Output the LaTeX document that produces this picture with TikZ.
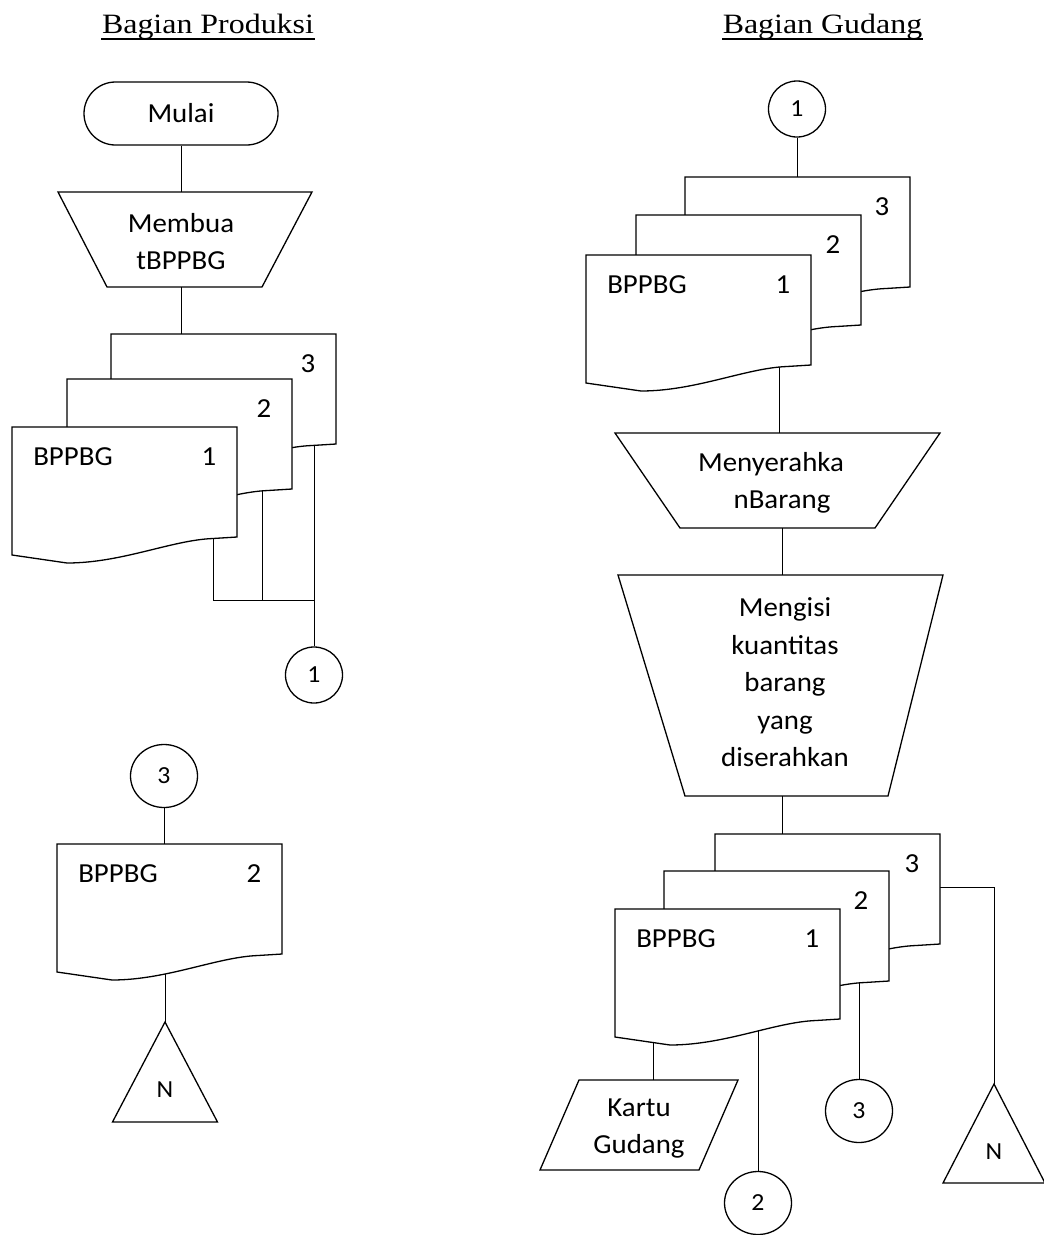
\documentclass[tikz,border=0pt]{standalone}
\usepackage{fontspec}
\setmainfont{Carlito}[FakeStretch=1.05]
\newfontfamily\judulfont{Liberation Serif}[FakeStretch=1.14]
\usetikzlibrary{shapes.geometric,shapes.misc,calc,backgrounds}

% lembar dokumen: nama, x, y (pojok kiri atas), teks kiri, nomor lembar
\newcommand{\dokumen}[5]{%
  \begin{scope}[shift={(#2,#3)}]
    \filldraw[kertas] (0,0) coordinate (#1-tl) -- (225,0) -- (225,110) -- (201,111.5)
      .. controls (160,113) and (110,136) .. (55,136) -- (0,128) -- cycle;
    \node[teks] (#1) at (61,30) {#4};
    \node[teks] (#1-no) at (197,30) {#5};
  \end{scope}}

\begin{document}
\begin{tikzpicture}[x=1pt, y=-1pt, line width=1.3pt]
    \tikzstyle{teks} = [font=\fontsize{27.5}{37.5}\selectfont, inner sep=0pt]
    \tikzstyle{kecil} = [font=\fontsize{24.5}{30}\selectfont, inner sep=0pt]
    \tikzstyle{judul} = [font={\judulfont\fontsize{28}{34}\selectfont}, inner sep=0pt, anchor=base]
    \tikzstyle{kertas} = [draw, fill=white]
    \tikzstyle{terminal} = [rounded rectangle, draw, minimum width=194pt, minimum height=63pt, teks]
    \tikzstyle{konektor} = [ellipse, draw, minimum width=67pt, minimum height=63pt, inner sep=0pt, kecil]
    \tikzstyle{konektorkecil} = [ellipse, draw, minimum width=57pt, minimum height=56pt, inner sep=0pt, kecil]

    \useasboundingbox (0,0) rectangle (1044,1235);

    % Judul kolom
    \node[judul] (judulA) at (208,33) {Bagian Produksi};
    \node[judul] (judulB) at (822.5,33) {Bagian Gudang};
    \draw[line width=1.2pt] ([yshift=-6pt]judulA.base west) -- ([yshift=-6pt]judulA.base east);
    \draw[line width=1.2pt] ([yshift=-6pt]judulB.base west) -- ([yshift=-6pt]judulB.base east);

    % Bagian Produksi
    \node[terminal] (mulai) at (181,113.5) {Mulai};
    \draw (58,192) -- (312,192) -- (262,287) -- (107,287) -- cycle;
    \node[teks, align=center] (buat) at (181,241.5) {Membua\\tBPPBG};
    \coordinate (buat-atas) at (181,192);
    \coordinate (buat-bawah) at (181,287);

    \dokumen{pA3}{111}{334}{}{3}
    \dokumen{pA2}{67}{379}{}{2}
    \dokumen{pA1}{12}{427}{BPPBG}{1}
    \coordinate (tA1) at ($(pA1-tl)+(201,0)$);
    \coordinate (tA2) at ($(pA2-tl)+(195,0)$);
    \node[konektorkecil] (satuA) at (314,675) {1};
    \coordinate (gabung) at (314,600);

    \node[konektor] (tigaA) at (164,776) {3};
    \dokumen{pB}{57}{844}{BPPBG}{2}
    \draw (165,1022) coordinate (arsipA) -- (217.5,1122) -- (112.5,1122) -- cycle;
    \node[kecil] (nA) at (165,1090) {N};

    % Bagian Gudang
    \node[konektorkecil] (satuB) at (797,109) {1};
    \dokumen{pC3}{685}{177}{}{3}
    \dokumen{pC2}{636}{215}{}{2}
    \dokumen{pC1}{586}{255}{BPPBG}{1}

    \draw (615,433) -- (940,433) -- (875,528) -- (680,528) -- cycle;
    \node[teks, align=center] (serah) at (777.5,483) {Menyerahka\hspace*{13pt}\\\hspace*{9pt}nBarang};
    \coordinate (serah-atas) at (779,433);
    \coordinate (serah-bawah) at (782,528);

    \draw (618,575) -- (943,575) -- (888,796) -- (685,796) -- cycle;
    \node[teks, align=center] (isi) at (785,682.5) {Mengisi\\kuantitas\\barang\\yang\\diserahkan};
    \coordinate (isi-atas) at (782,575);
    \coordinate (isi-bawah) at (782,796);

    \dokumen{pD3}{715}{834}{}{3}
    \dokumen{pD2}{664}{871}{}{2}
    \dokumen{pD1}{615}{909}{BPPBG}{1}
    \coordinate (tD3) at ($(pD3-tl)+(224,53)$);

    \draw (579,1080) -- (738,1080) -- (699,1170) -- (540,1170) -- cycle;
    \node[teks, align=center] (kartu) at (639,1128.5) {Kartu\\Gudang};
    \coordinate (kartu-atas) at (653,1080);
    \node[konektor] (duaB) at (758,1203) {2};
    \node[konektor] (tigaB) at (859,1111) {3};
    \draw (994,1084) coordinate (arsipB) -- (1045,1183) -- (943,1183) -- cycle;
    \node[kecil] (nB) at (994,1152) {N};

    % Garis alir
    \begin{scope}[on background layer]
        \draw (mulai.south) -- (buat-atas);
        \draw (buat-bawah) -- (buat-bawah |- pA3-tl);
        \draw (tA1) |- (gabung);
        \draw (tA2) -- (tA2 |- gabung);
        \draw (satuA) -- (satuA |- pA3-tl);
        \draw (tigaA) -- (tigaA |- pB-tl);
        \draw (arsipA) -- (arsipA |- pB-tl);

        \draw (satuB) -- (satuB |- pC3-tl);
        \draw (serah-atas) -- (serah-atas |- pC1-tl);
        \draw (serah-bawah) -- (isi-atas);
        \draw (isi-bawah) -- (isi-bawah |- pD3-tl);
        \draw (kartu-atas) -- (kartu-atas |- pD1-tl);
        \draw (duaB) -- (duaB |- pD1-tl);
        \draw (tigaB) -- (tigaB |- pD2-tl);
        \draw (tD3) -| (arsipB);
    \end{scope}
\end{tikzpicture}
\end{document}
